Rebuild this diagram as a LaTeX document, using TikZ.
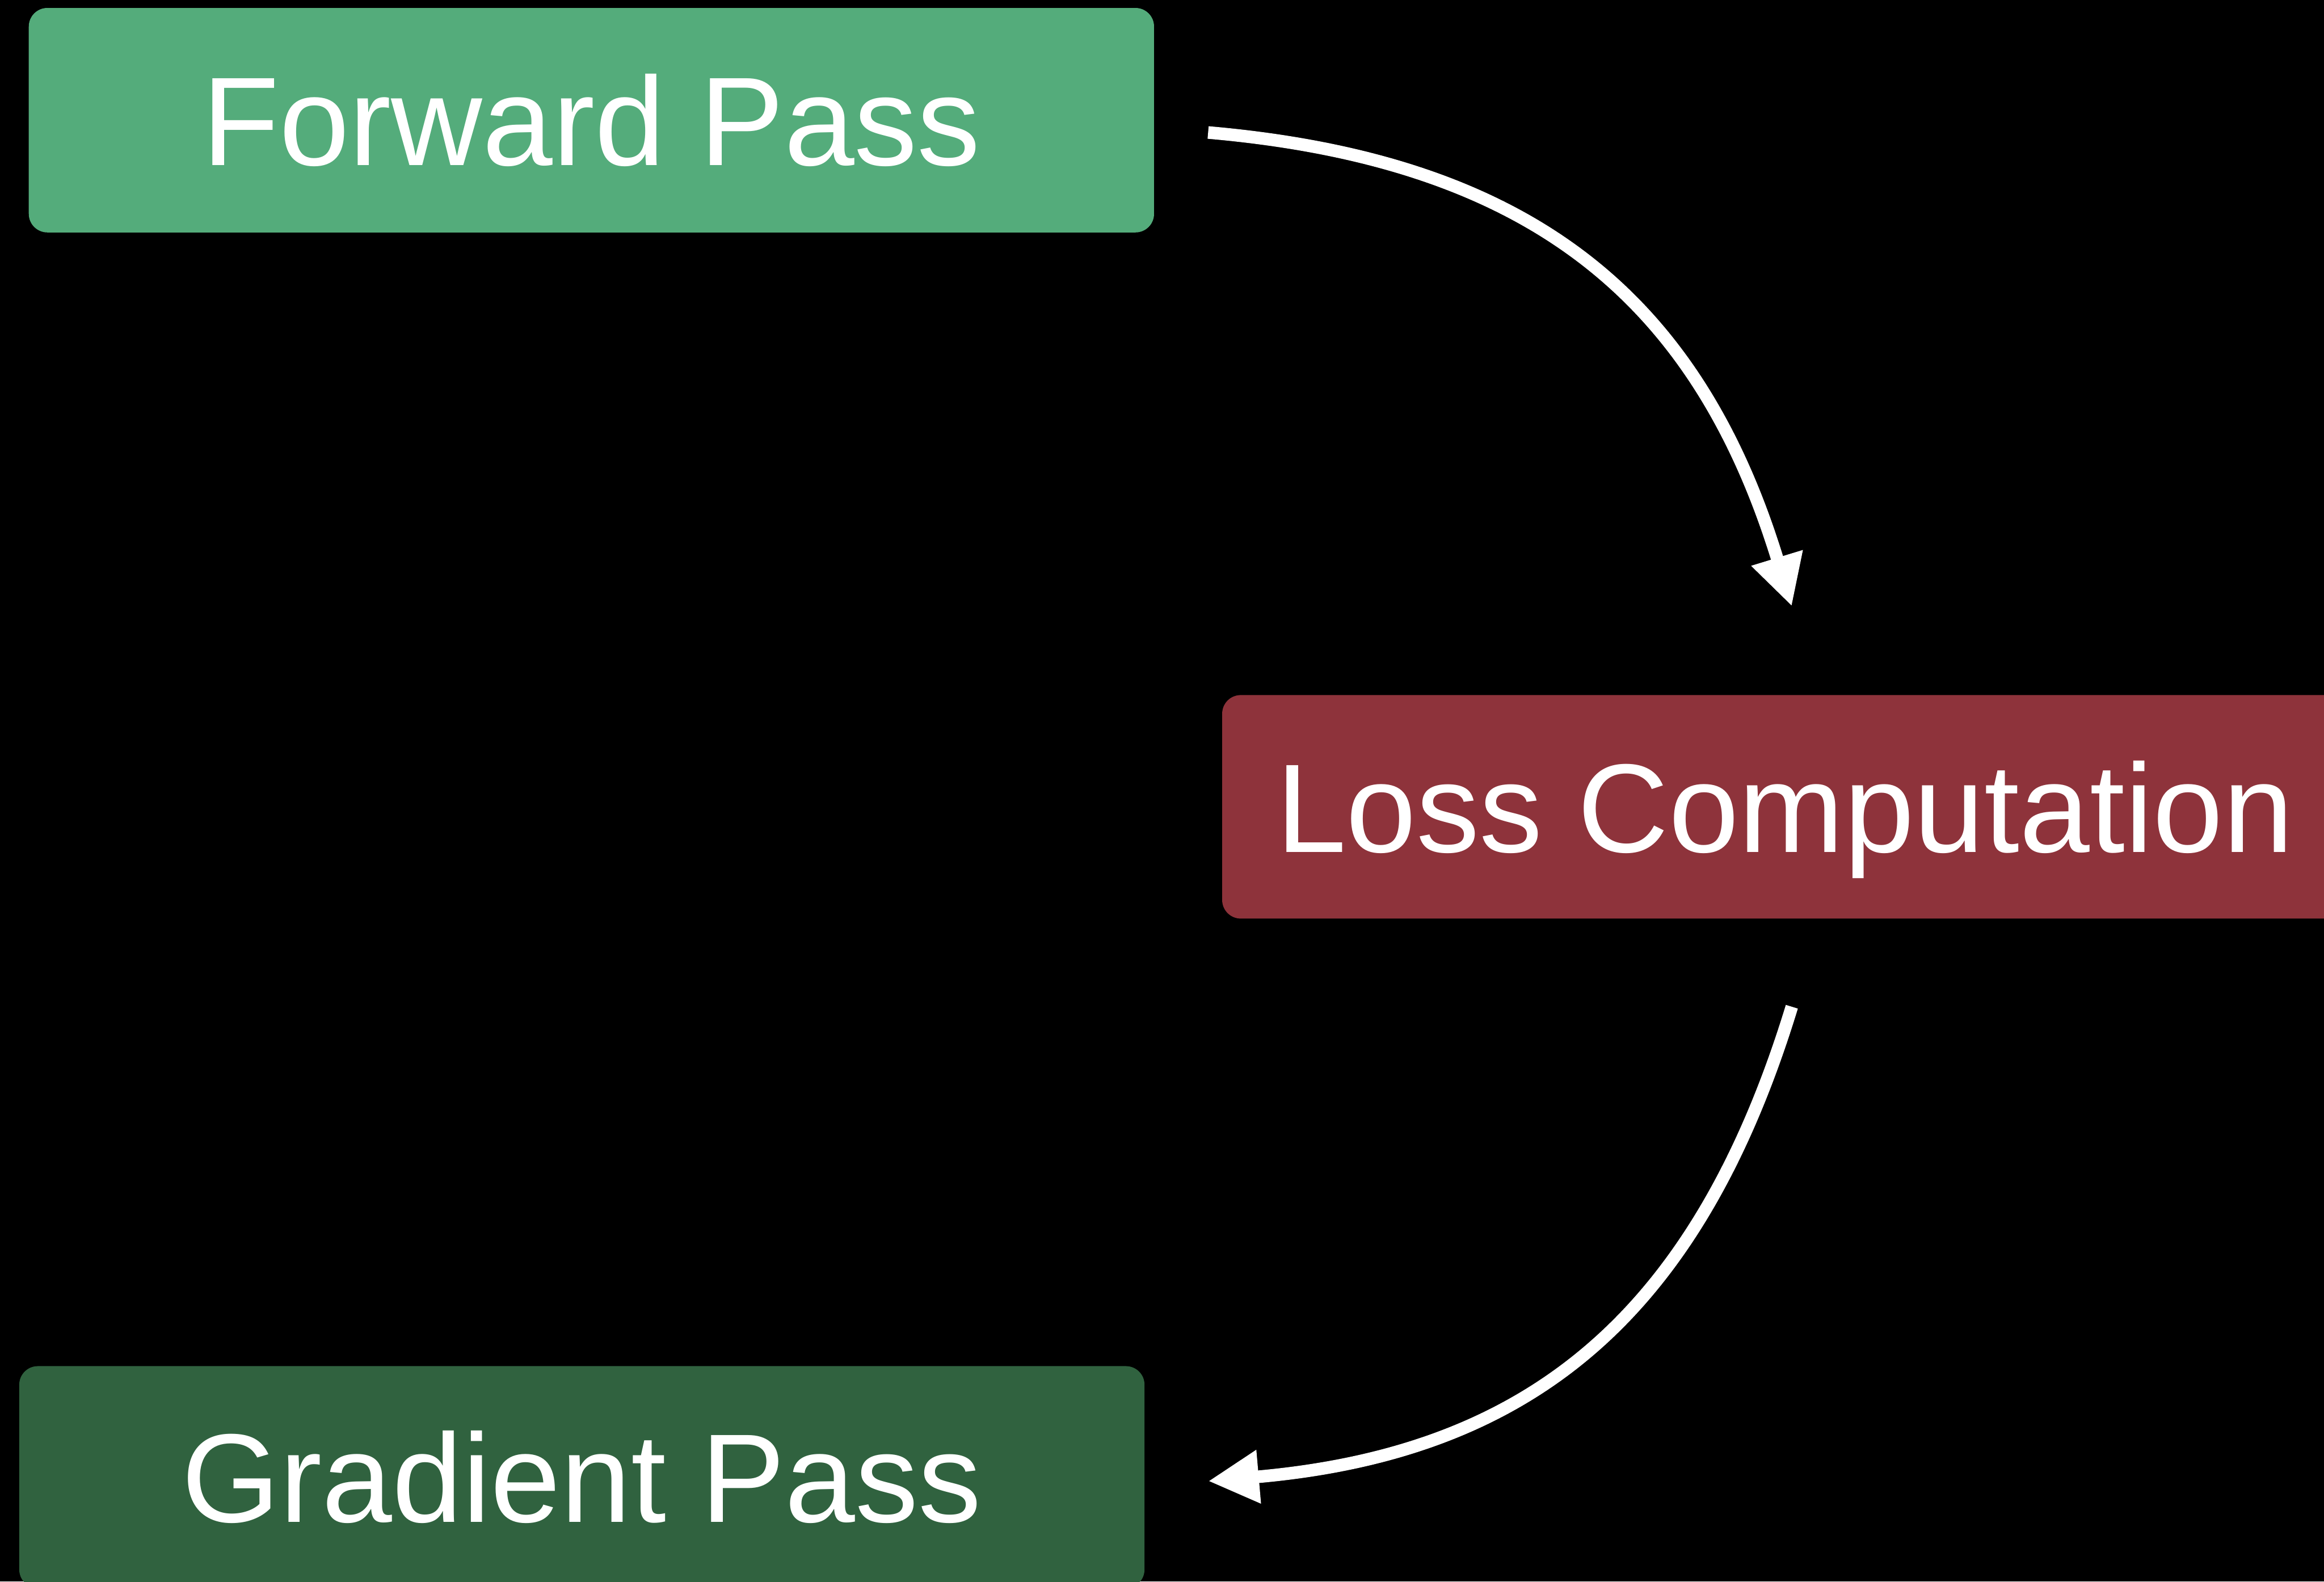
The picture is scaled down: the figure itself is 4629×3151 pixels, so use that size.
\documentclass[tikz,border=0pt]{standalone}
\usepackage{fontspec}
\setmainfont{Liberation Sans}
\usetikzlibrary{arrows.meta}
\definecolor{fwdgreen}{HTML}{54AC7B}
\definecolor{lossred}{HTML}{8E333B}
\definecolor{graddark}{HTML}{30623F}
\begin{document}
\begin{tikzpicture}[x=0.01cm,y=0.01cm,
  stage/.style={rectangle, rounded corners=0.37cm, inner sep=0pt,
    text=white, text height=1.8cm, text depth=0pt,
    minimum width=22.4cm,
    font=\fontsize{71.5}{80}\selectfont},
  flow/.style={draw=white, line width=0.25cm,
    -{Triangle[length=1.01cm,width=1.0cm]}}]
  % canvas and black background
  \useasboundingbox (0,0) rectangle (4629,3151);
  \fill[black] (0,0) rectangle (4629,3151);
  \clip (0,0) rectangle (4629,3151);

  % stages
  \node[stage, fill=fwdgreen, minimum height=4.47cm]
    (fwd) at (1178,2911.5) {Forward Pass};
  \node[stage, fill=lossred, minimum height=4.45cm]
    (loss) at (3555,1543.5) {Loss Computation};
  \node[stage, fill=graddark, minimum height=4.42cm]
    (grad) at (1159,208) {Gradient Pass};

  % connector end points, set a little apart from the boxes
  \coordinate (fwdout)  at ([shift={(107,-24.5)}]fwd.east);
  \coordinate (lossin)  at ([shift={(14,176)}]loss.north);
  \coordinate (lossout) at ([shift={(14,-175)}]loss.south);
  \coordinate (gradin)  at ([shift={(126,-8)}]grad.east);

  % flow arrows
  \draw[flow] (fwdout) to[out=-5,in=107,looseness=1.1] (lossin);
  \draw[flow] (lossout) to[out=-107,in=5,looseness=1.1] (gradin);
\end{tikzpicture}
\end{document}
